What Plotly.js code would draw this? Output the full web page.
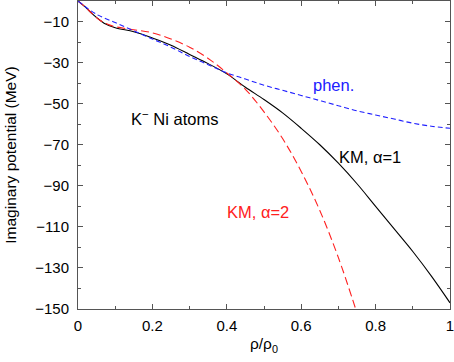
<!DOCTYPE html>
<html>
<head>
<meta charset="utf-8">
<script src="https://cdn.plot.ly/plotly-3.0.1.min.js"></script>
<style>
  html, body { margin: 0; padding: 0; background: #fff; }
  #chart { width: 454px; height: 362px; }
</style>
</head>
<body>
<div id="chart"></div>
<script>
// density rho/rho0
var rhoKM1 = [0, 0.02, 0.04, 0.06, 0.07, 0.1, 0.15, 0.2, 0.25, 0.3, 0.35, 0.4, 0.45, 0.5, 0.55, 0.6, 0.65, 0.7, 0.75, 0.8, 0.85, 0.9, 0.95, 1.0];
var imKM1 = [0, -3, -6.5, -9.5, -10.8, -13, -15, -18, -21.5, -26, -30.5, -35.5, -42, -48, -54.5, -62, -70, -79, -89, -100, -111, -122, -134, -147];

var rhoKM2 = [0, 0.02, 0.04, 0.06, 0.08, 0.1, 0.15, 0.2, 0.25, 0.3, 0.35, 0.4, 0.45, 0.5, 0.55, 0.6, 0.65, 0.7, 0.75];
var imKM2 = [0, -3, -6.5, -9.5, -11.3, -12.5, -14, -15.5, -18.5, -22.5, -28, -35, -43, -54, -67, -83, -102, -125, -152];

var rhoPhen = [0, 0.05, 0.1, 0.15, 0.2, 0.25, 0.3, 0.35, 0.4, 0.45, 0.5, 0.55, 0.6, 0.65, 0.7, 0.75, 0.8, 0.85, 0.9, 0.95, 1.0];
var imPhen = [0, -6.5, -10.5, -14.5, -18.5, -22.5, -27, -31, -35, -38, -41, -43.5, -46, -48.5, -51, -53.5, -55.5, -57.5, -59.5, -61, -62];

var xTicks = [0, 0.2, 0.4, 0.6, 0.8, 1];
var xTickText = ['0', '0.2', '0.4', '0.6', '0.8', '1'];
var yTicks = [-150, -130, -110, -90, -70, -50, -30, -10];

var font = 'Liberation Sans, Arial, sans-serif';
var frame = '#555';

var data = [
  {
    x: rhoKM1, y: imKM1, type: 'scatter', mode: 'lines',
    line: { color: 'black', width: 1.1, shape: 'spline' }
  },
  {
    x: rhoKM2, y: imKM2, type: 'scatter', mode: 'lines',
    line: { color: '#ff2020', width: 1.1, dash: '8px,4px', shape: 'spline' }
  },
  {
    x: rhoPhen, y: imPhen, type: 'scatter', mode: 'lines',
    line: { color: '#2020ff', width: 1.1, dash: '5px,3px', shape: 'spline' }
  }
];

var axisCommon = {
  showgrid: false, zeroline: false,
  showline: true, linecolor: frame, linewidth: 1,
  mirror: 'allticks', ticks: 'inside', ticklen: 5, tickcolor: frame,
  ticklabeloverflow: 'allow',
  tickfont: { family: font, size: 15, color: 'black' }
};

var layout = {
  width: 454, height: 362,
  margin: { l: 78, r: 4, t: 1, b: 53 },
  paper_bgcolor: 'white', plot_bgcolor: 'white',
  showlegend: false,
  font: { family: font, color: 'black' },
  xaxis: Object.assign({}, axisCommon, {
    range: [0, 1],
    tickvals: xTicks, ticktext: xTickText,
    minor: { ticks: 'inside', ticklen: 3, tickcolor: frame, tickvals: [0.1, 0.3, 0.5, 0.7, 0.9] },
    ticklabelstandoff: 3,
    title: { text: 'ρ/ρ<sub>0</sub>', font: { family: font, size: 15.5 }, standoff: 5 }
  }),
  yaxis: Object.assign({}, axisCommon, {
    range: [-150, 0],
    tickvals: yTicks,
    minor: { ticks: 'inside', ticklen: 3, tickcolor: frame, tickvals: [-140, -120, -100, -80, -60, -40, -20] },
    ticklabelstandoff: 5,
    title: { text: 'Imaginary potential (MeV)', font: { family: font, size: 15.5 }, standoff: 14 }
  }),
  annotations: [
    { x: 0.686, y: -41, text: 'phen.', showarrow: false, font: { family: font, size: 16.5, color: '#2020ff' } },
    { x: 0.26, y: -57, text: 'K<sup>−</sup> Ni atoms', showarrow: false, font: { family: font, size: 16.5, color: 'black' } },
    { x: 0.785, y: -76, text: 'KM, α=1', showarrow: false, font: { family: font, size: 16.5, color: 'black' } },
    { x: 0.485, y: -103, text: 'KM, α=2', showarrow: false, font: { family: font, size: 16.5, color: '#ff2020' } }
  ]
};

Plotly.newPlot('chart', data, layout, { staticPlot: true });
</script>
</body>
</html>
